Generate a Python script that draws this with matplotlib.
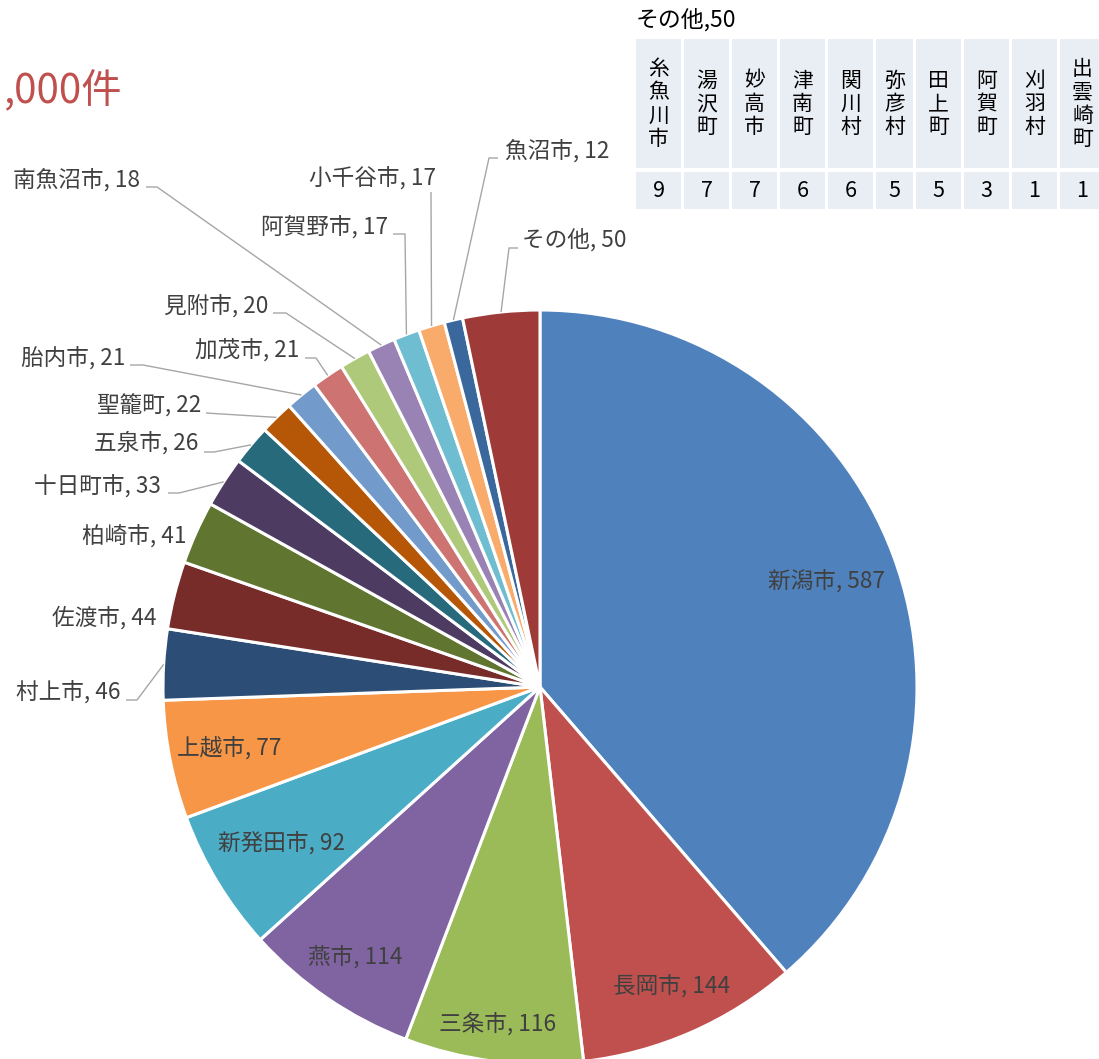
import numpy as np
import matplotlib
matplotlib.use("Agg")
import matplotlib.pyplot as plt
from matplotlib.patches import Rectangle

plt.rcParams['font.family'] = ['Noto Sans CJK JP', 'DejaVu Sans']

# pie data (clockwise from 12 o'clock)
names = ["新潟市", "長岡市", "三条市", "燕市", "新発田市", "上越市", "村上市", "佐渡市",
         "柏崎市", "十日町市", "五泉市", "聖籠町", "胎内市", "加茂市", "見附市", "南魚沼市",
         "阿賀野市", "小千谷市", "魚沼市", "その他"]
counts = [587, 144, 116, 114, 92, 77, 46, 44, 41, 33, 26, 22, 21, 21, 20, 18, 17, 17, 12, 50]
colors = ["#4F81BD", "#C0504D", "#9BBB59", "#8064A2", "#4BACC6", "#F79646", "#2C4D75",
          "#772C2A", "#5F7530", "#4D3B62", "#276A7C", "#B65708", "#729ACA", "#CD7371",
          "#AFC97A", "#9983B5", "#6FBDD1", "#F9AB6B", "#3A679C", "#9E3A38"]

# breakdown of その他
other_names = ["糸魚川市", "湯沢町", "妙高市", "津南町", "関川村", "弥彦村", "田上町", "阿賀町", "刈羽村", "出雲崎町"]
other_counts = [9, 7, 7, 6, 6, 5, 5, 3, 1, 1]

W, H = 1099, 1059
fig = plt.figure(figsize=(W / 100, H / 100), dpi=100)
ax = fig.add_axes([0, 0, 1, 1])

cx, cy, R = 540, 687, 377
wedges, _ = ax.pie(counts, colors=colors, startangle=-90, counterclock=True,
                   center=(cx, cy), radius=R,
                   wedgeprops=dict(edgecolor="white", linewidth=2.2))
ax.set_xlim(0, W)
ax.set_ylim(H, 0)
ax.set_aspect("equal")
ax.set_axis_off()

txt_col = "#404040"
line_col = "#A6A6A6"
fs = 16.3

def mid_point(w, frac):
    a = np.deg2rad((w.theta1 + w.theta2) / 2)
    return cx + frac * R * np.cos(a), cy + frac * R * np.sin(a)

# inside labels: radius fraction
inside = {0: 0.81, 1: 0.865, 2: 0.90, 3: 0.867, 4: 0.80, 5: 0.84}
for i, f in inside.items():
    x, y = mid_point(wedges[i], f)
    ax.text(x, y, f"{names[i]}, {counts[i]}", ha="center", va="center",
            fontsize=fs, color=txt_col)

# outside labels: (x, y, ha, leader points before the wedge edge)
outside = {
    6: (120, 692, "right", [(126, 700), (137, 700)]),
    7: (157, 618, "right", None),
    8: (186, 536, "right", None),
    9: (161, 486, "right", [(168, 493), (179, 493)]),
    10: (198, 443, "right", [(204, 452), (214, 452)]),
    11: (201, 406, "right", [(206, 413)]),
    12: (125, 358, "right", [(130, 365), (143, 365)]),
    13: (299, 350, "right", [(305, 358), (316, 358)]),
    14: (268, 306, "right", [(273, 313), (286, 313)]),
    15: (140, 180, "right", [(146, 187), (157, 187)]),
    16: (388, 227, "right", [(393, 234), (405, 234)]),
    17: (436, 178, "right", [(431, 192)]),
    18: (505, 151, "left", [(498, 158), (489, 158)]),
    19: (522, 240, "left", [(518, 248), (509, 248)]),
}
for i, (x, y, ha, pts) in outside.items():
    ax.text(x, y, f"{names[i]}, {counts[i]}", ha=ha, va="center",
            fontsize=fs, color=txt_col)
    if pts:
        ex, ey = mid_point(wedges[i], 1.0)
        xs = [p[0] for p in pts] + [ex]
        ys = [p[1] for p in pts] + [ey]
        ax.plot(xs, ys, color=line_col, lw=1.0, solid_capstyle="butt")

# title (partly off the left edge in the original)
ax.text(4, 91, ",000件", ha="left", va="center", fontsize=29, color="#C0504D")

# breakdown table
ax.text(636, 20, f"その他,{counts[-1]}", ha="left", va="center", fontsize=16.5, color="black")
col_w = [45, 45, 45, 45, 45, 37, 45, 45, 45, 45]
x0 = 636
for name, val, cw in zip(other_names, other_counts, col_w):
    ax.add_patch(Rectangle((x0, 39), cw, 129, facecolor="#E9EDF4", edgecolor="none"))
    ax.add_patch(Rectangle((x0, 172), cw, 37, facecolor="#E9EDF4", edgecolor="none"))
    ax.text(x0 + cw / 2, 104, "\n".join(name), ha="center", va="center",
            fontsize=15, color="black", linespacing=1.08)
    ax.text(x0 + cw / 2, 191, str(val), ha="center", va="center",
            fontsize=15.5, color="black")
    x0 += cw + 3

fig.savefig("out.png", dpi=100)
